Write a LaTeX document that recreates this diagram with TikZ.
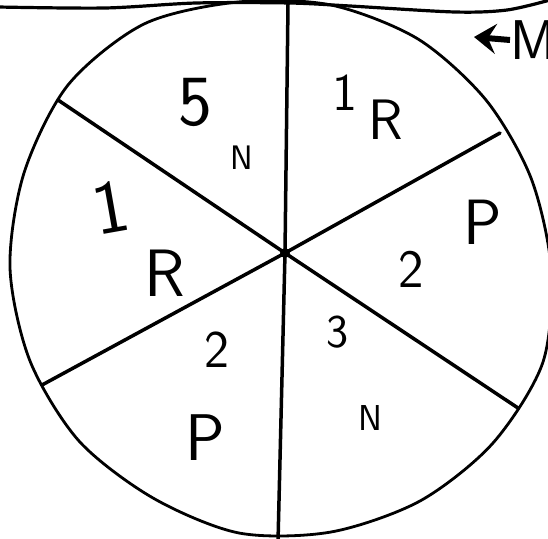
\documentclass[tikz,border=0pt]{standalone}
\usepackage{fontspec}
\usetikzlibrary{arrows.meta}
\tikzset{
  hand/.style={font=\sffamily\fontsize{#1}{#1}\selectfont,inner sep=0pt},
  spoke/.style={line width=3.5pt,line cap=round},
  rim/.style={line width=2.8pt},
}
\begin{document}
\begin{tikzpicture}[x=1pt,y=-1pt]
\clip (0,0) rectangle (548,538);
\fill[white] (0,0) rectangle (548,538);
% rim of the wheel
\draw[rim] plot[smooth cycle] coordinates {(551,268) (531,178) (486,100) (418,39) (331,5) (238,2) (144,24) (68,85) (24,173) (10,268) (30,361) (79,441) (153,498) (239,533) (331,532) (420,501) (493,443) (543,362)};
% line along the top
\draw[line width=3.2pt] plot[smooth] coordinates {(-2,7) (105,8) (196,3) (290,3) (350,6) (455,12) (507,10) (550,0)};
% spokes
\coordinate (hub) at (285,253);
\foreach \n/\x/\y in {s1/288/4,s2/500/133,s3/518/408,s4/278/542,s5/42/385,s6/58/100} { \coordinate (\n) at (\x,\y); \draw[spoke] (hub) -- (\n); }
\fill (hub) circle (5pt);
% labels in the sectors
\foreach \n/\t/\x/\y/\s/\r in {five/5/195/102/72/0,nA/N/242/158/34/0,oneA/1/345/93/53/0,rA/R/386/120/57/0,pA/P/483/222/64/0,twoA/2/411/269/54/0,three/3/338/332/47/0,nB/N/370/418/36/0,twoB/2/217/350/53/0,pB/P/205/438/66/0,oneB/1/111/207/76/10,rB/R/165/273/67/0} { \node[hand=\s,rotate=\r] (\n) at (\x,\y) {\t}; }
% M and its arrow
\node[hand=56,anchor=west] (m) at (510,40) {M};
\coordinate (mtip) at (474,37);
\draw[line width=6pt,-{Stealth[length=22pt,width=30pt,inset=8pt]}] (m.west) -- (mtip);
\end{tikzpicture}
\end{document}
